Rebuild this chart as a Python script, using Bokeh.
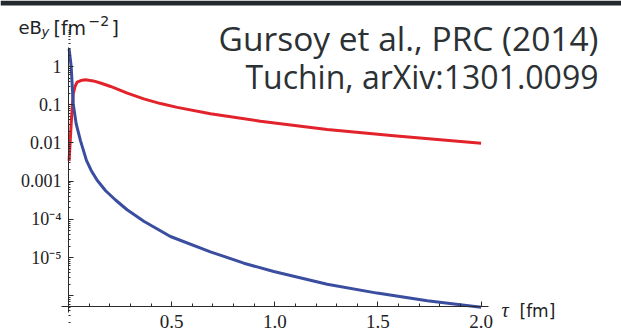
from bokeh.plotting import figure
from bokeh.models import Label, FixedTicker, BoxAnnotation
from bokeh.embed import file_html
from bokeh.resources import INLINE

# ---- data ----
tau_blue = [0.003, 0.013, 0.023, 0.037, 0.058, 0.087, 0.11, 0.139, 0.18, 0.228,
            0.284, 0.365, 0.494, 0.688, 0.85, 0.995, 1.254, 1.496, 1.739, 2.0]
eb_blue = [2.9, 1.0, 0.105, 0.032, 0.0115, 0.0035, 0.0019, 1.05e-3, 5.6e-4, 3.2e-4,
           1.78e-4, 8.9e-5, 3.55e-5, 1.41e-5, 7.1e-6, 4.3e-6, 2.0e-6, 1.17e-6, 7.4e-7, 5.0e-7]

tau_red = [0.003, 0.013, 0.023, 0.032, 0.042, 0.06, 0.082, 0.12, 0.155, 0.204,
           0.285, 0.365, 0.446, 0.527, 0.688, 0.93, 1.254, 1.577, 2.0]
eb_red = [0.0034, 0.032, 0.195, 0.3, 0.39, 0.43, 0.45, 0.42, 0.37, 0.3,
          0.2, 0.142, 0.107, 0.085, 0.058, 0.037, 0.0224, 0.0155, 0.0098]

x_ticks = [0.5, 1.0, 1.5, 2.0]
x_tick_labels = ["0.5", "1.0", "1.5", "2.0"]
y_ticks = [1.0, 0.1, 0.01, 0.001, 1e-4, 1e-5, 1e-6]
y_tick_labels = ["1", "0.1", "0.01", "0.001", "10\u207b\u2074", "10\u207b\u2075", ""]

title_lines = ["Gursoy et al., PRC (2014)", "Tuchin, arXiv:1301.0099"]

# ---- figure: frame covers the whole canvas ----
W, H = 621, 332
p = figure(width=W, height=H, x_range=(-0.3296, 2.6806),
           y_range=(10 ** -6.963, 10 ** 1.7277), y_axis_type="log",
           output_backend="svg", toolbar_location=None,
           min_border_left=0, min_border_right=0,
           min_border_top=0, min_border_bottom=0)
p.outline_line_color = None
p.grid.visible = False
p.background_fill_color = "white"
p.border_fill_color = "white"

# dark strip along the top edge of the slide
p.add_layout(BoxAnnotation(bottom=10 ** 1.597, fill_color="#23292c",
                           fill_alpha=1.0, line_color=None))

p.line(tau_red, eb_red, line_color="#e2232b", line_width=3, line_join="round")
p.line(tau_blue, eb_blue, line_color="#3a4d9f", line_width=3, line_join="round")

axis_col = "#2a2a2a"
# x axis (crosses at the bottom of the y range)
xa = p.xaxis[0]
xa.fixed_location = 10 ** -6.283
xa.bounds = (-0.034, 2.036)
xa.ticker = FixedTicker(ticks=x_ticks,
                        minor_ticks=[round(0.1 * i, 1) for i in range(1, 21)])
xa.major_label_overrides = {t: l for t, l in zip(x_ticks, x_tick_labels)}
xa.major_tick_in = 5
xa.major_tick_out = 0
xa.minor_tick_in = 3
xa.minor_tick_out = 0
xa.axis_line_color = axis_col
xa.major_tick_line_color = axis_col
xa.minor_tick_line_color = axis_col
xa.major_label_text_font = "Liberation Serif"
xa.major_label_text_font_size = "19px"
xa.major_label_text_color = "#222222"
xa.major_label_standoff = 8

# y axis at tau = 0
ya = p.yaxis[0]
ya.fixed_location = 0
ya.bounds = (10 ** -6.44, 10 ** 0.497)
minor_y = []
for e in range(-7, 1):
    for k in range(2, 10):
        minor_y.append(k * 10.0 ** e)
ya.ticker = FixedTicker(ticks=y_ticks, minor_ticks=minor_y)
ya.major_label_overrides = {t: l for t, l in zip(y_ticks, y_tick_labels)}
ya.major_tick_in = 5
ya.major_tick_out = 0
ya.minor_tick_in = 2
ya.minor_tick_out = 0
ya.axis_line_color = axis_col
ya.major_tick_line_color = axis_col
ya.minor_tick_line_color = axis_col
ya.major_label_text_font = "Liberation Serif"
ya.major_label_text_font_size = "18px"
ya.major_label_text_color = "#222222"
ya.major_label_standoff = 7


def lab(x, y, text, font, size, style="normal", align="left", color="#222222"):
    p.add_layout(Label(x=x, y=y, x_units="screen", y_units="screen", text=text,
                       text_font=font, text_font_size=size, text_font_style=style,
                       text_align=align, text_baseline="alphabetic",
                       text_color=color))


# y-axis title eB_y [fm^-2]
lab(18, 305, "eB", "DejaVu Sans", "18px")
lab(41, 301, "y", "DejaVu Sans", "13px", style="italic")
lab(53, 305, "[fm", "DejaVu Sans", "19px")
lab(88, 312, "\u22122", "DejaVu Sans", "14px")
lab(111, 305, "]", "DejaVu Sans", "19px")

# x-axis title tau [fm]
lab(501, 23, "\u03c4", "Liberation Serif", "20px", style="italic")
lab(519, 22, "[fm]", "DejaVu Sans", "17px")

# citation texts
lab(598, 295, title_lines[0], "Open Sans", "33.5px", align="right", color="#2b3134")
lab(598, 256, title_lines[1], "Open Sans", "32px", align="right", color="#2b3134")

open("out.html", "w").write(file_html(p, INLINE))
